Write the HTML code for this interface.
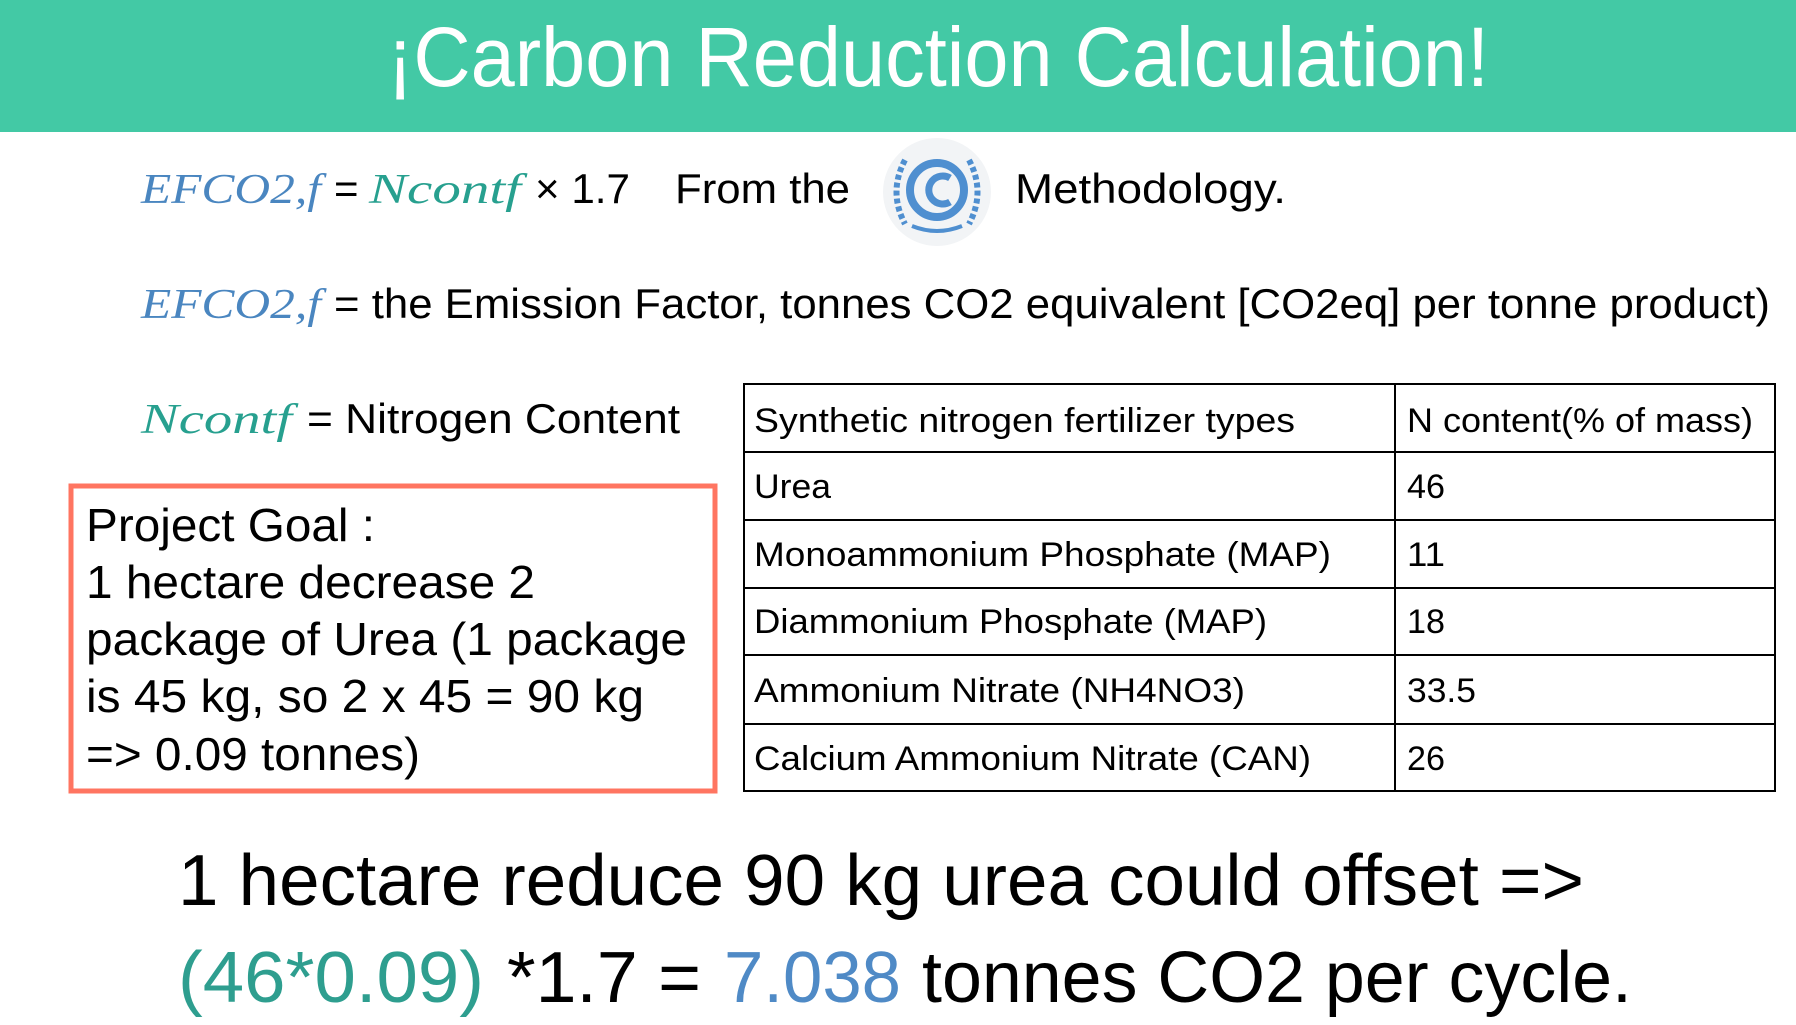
<!DOCTYPE html>
<html><head><meta charset="utf-8"><style>
html,body{margin:0;padding:0;background:#fff;}
svg{display:block;}
text{font-family:"Liberation Sans",sans-serif;}
.s{font-family:"Liberation Serif",serif;font-style:italic;}
</style></head><body>
<svg width="1796" height="1025" viewBox="0 0 1796 1025" xmlns="http://www.w3.org/2000/svg">
<rect x="0" y="0" width="1796" height="132" fill="#43c9a5"/>
<text x="387" y="86" font-size="84" fill="#fff" textLength="1102" lengthAdjust="spacingAndGlyphs">¡Carbon Reduction Calculation!</text>

<g font-size="42">
<text class="s" x="141" y="203" fill="#4a86c0" textLength="180" lengthAdjust="spacingAndGlyphs">EFCO2,f</text>
<text x="334" y="203" fill="#000">=</text>
<text class="s" x="369" y="203" fill="#27a08f" textLength="152" lengthAdjust="spacingAndGlyphs">Ncontf</text>
<text x="535" y="203" fill="#000" textLength="95" lengthAdjust="spacingAndGlyphs">× 1.7</text>
<text x="675" y="203" fill="#000" textLength="175" lengthAdjust="spacingAndGlyphs">From the</text>
<text x="1015" y="203" fill="#000" textLength="271" lengthAdjust="spacingAndGlyphs">Methodology.</text>
</g>
<g>
<circle cx="937" cy="192" r="54" fill="#f2f4f6"/>
<path d="M905 160 Q888 192 905 224 M969 160 Q986 192 969 224" stroke="#4f8fd0" stroke-width="6" fill="none" stroke-dasharray="5 3"/>
<circle cx="937" cy="190" r="27" fill="none" stroke="#4f8fd0" stroke-width="8"/>
<path d="M950 178 A14 14 0 1 0 950 202" stroke="#4f8fd0" stroke-width="7" fill="none"/>
<path d="M912 226 Q937 236 962 226" stroke="#4f8fd0" stroke-width="4" fill="none"/>
</g>

<g font-size="42">
<text class="s" x="141" y="318" fill="#4a86c0" textLength="180" lengthAdjust="spacingAndGlyphs">EFCO2,f</text>
<text x="334" y="318" fill="#000" textLength="1436" lengthAdjust="spacingAndGlyphs">= the Emission Factor, tonnes CO2 equivalent [CO2eq] per tonne product)</text>
</g>
<g font-size="42">
<text class="s" x="141" y="433" fill="#27a08f" textLength="151" lengthAdjust="spacingAndGlyphs">Ncontf</text>
<text x="307" y="433" fill="#000" textLength="373" lengthAdjust="spacingAndGlyphs">= Nitrogen Content</text>
</g>

<g>
<rect x="71" y="486" width="644" height="305" fill="#fff" stroke="#ff7561" stroke-width="5"/>
<g font-size="46" fill="#000">
<text x="86" y="541" textLength="289" lengthAdjust="spacingAndGlyphs">Project Goal :</text>
<text x="86" y="598" textLength="449" lengthAdjust="spacingAndGlyphs">1 hectare decrease 2</text>
<text x="86" y="655" textLength="601" lengthAdjust="spacingAndGlyphs">package of Urea (1 package</text>
<text x="86" y="712" textLength="558" lengthAdjust="spacingAndGlyphs">is 45 kg, so 2 x 45 = 90 kg</text>
<text x="86" y="770" textLength="334" lengthAdjust="spacingAndGlyphs">=&gt; 0.09 tonnes)</text>
</g>
</g>

<g stroke="#000" stroke-width="2" fill="none">
<rect x="744" y="384" width="1031" height="407"/>
<line x1="1395" y1="384" x2="1395" y2="791"/>
<line x1="744" y1="452" x2="1775" y2="452"/>
<line x1="744" y1="520" x2="1775" y2="520"/>
<line x1="744" y1="588" x2="1775" y2="588"/>
<line x1="744" y1="655" x2="1775" y2="655"/>
<line x1="744" y1="724" x2="1775" y2="724"/>
</g>
<g font-size="34" fill="#000">
<text x="754" y="432" textLength="541" lengthAdjust="spacingAndGlyphs">Synthetic nitrogen fertilizer types</text>
<text x="1407" y="432" textLength="346" lengthAdjust="spacingAndGlyphs">N content(% of mass)</text>
<text x="754" y="498" textLength="77" lengthAdjust="spacingAndGlyphs">Urea</text>
<text x="1407" y="498" textLength="38" lengthAdjust="spacingAndGlyphs">46</text>
<text x="754" y="566" textLength="577" lengthAdjust="spacingAndGlyphs">Monoammonium Phosphate (MAP)</text>
<text x="1407" y="566" textLength="38" lengthAdjust="spacingAndGlyphs">11</text>
<text x="754" y="633" textLength="513" lengthAdjust="spacingAndGlyphs">Diammonium Phosphate (MAP)</text>
<text x="1407" y="633" textLength="38" lengthAdjust="spacingAndGlyphs">18</text>
<text x="754" y="702" textLength="491" lengthAdjust="spacingAndGlyphs">Ammonium Nitrate (NH4NO3)</text>
<text x="1407" y="702" textLength="69" lengthAdjust="spacingAndGlyphs">33.5</text>
<text x="754" y="770" textLength="557" lengthAdjust="spacingAndGlyphs">Calcium Ammonium Nitrate (CAN)</text>
<text x="1407" y="770" textLength="38" lengthAdjust="spacingAndGlyphs">26</text>
</g>

<g font-size="72">
<text x="178" y="905" fill="#000" textLength="1406" lengthAdjust="spacingAndGlyphs">1 hectare reduce 90 kg urea could offset =&gt;</text>
<text x="178" y="1002" fill="#2e9e8f" textLength="306" lengthAdjust="spacingAndGlyphs">(46*0.09)</text>
<text x="507" y="1002" fill="#000" textLength="194" lengthAdjust="spacingAndGlyphs">*1.7 =</text>
<text x="724" y="1002" fill="#4f8ac6" textLength="177" lengthAdjust="spacingAndGlyphs">7.038</text>
<text x="922" y="1002" fill="#000" textLength="710" lengthAdjust="spacingAndGlyphs">tonnes CO2 per cycle.</text>
</g>
</svg>
</body></html>
